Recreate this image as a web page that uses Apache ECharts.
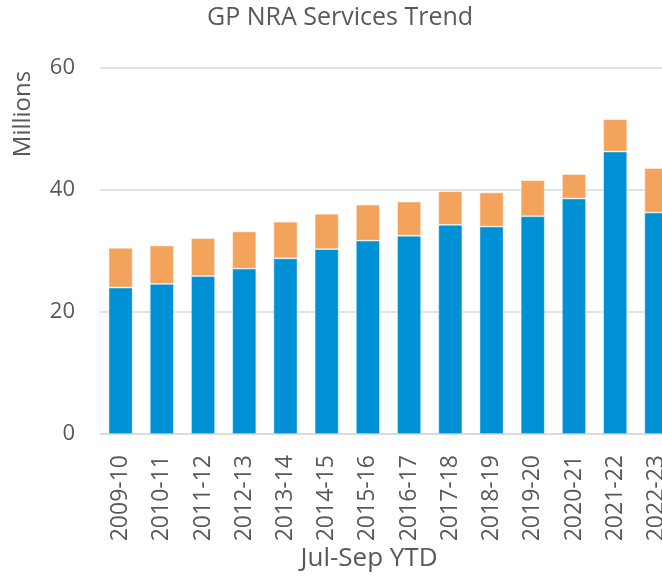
<!DOCTYPE html>
<html>
<head>
<meta charset="utf-8">
<script src="https://cdn.jsdelivr.net/npm/echarts@6/dist/echarts.min.js"></script>
<style>
html,body{margin:0;padding:0;background:#fff;}
#chart{width:662px;height:579px;}
</style>
</head>
<body>
<div id="chart"></div>
<script>
const categories = ['2009-10','2010-11','2011-12','2012-13','2013-14','2014-15','2015-16','2016-17','2017-18','2018-19','2019-20','2020-21','2021-22','2022-23'];
const seriesBlue = [24.0, 24.6, 25.9, 27.1, 28.8, 30.3, 31.7, 32.5, 34.3, 34.0, 35.7, 38.6, 46.3, 36.3];
const seriesOrange = [6.5, 6.3, 6.2, 6.1, 6.0, 5.8, 5.9, 5.6, 5.5, 5.6, 5.9, 4.0, 5.3, 7.3];
const yTicks = {min: 0, max: 60, interval: 20};
const titleText = 'GP NRA Services Trend';
const xName = 'Jul-Sep YTD';
const yName = 'Millions';

const FONT = '"Open Sans", "Noto Sans", sans-serif';
const TXT = '#595959';

const chart = echarts.init(document.getElementById('chart'), null, {renderer: 'canvas'});
chart.setOption({
  animation: false,
  backgroundColor: '#fff',
  title: [
    {text: titleText, left: 340, top: 5, padding: 0, textAlign: 'center',
     textStyle: {fontFamily: FONT, fontSize: 25, fontWeight: 'normal', color: TXT}},
    {text: xName, left: 369, top: 546, padding: 0, textAlign: 'center',
     textStyle: {fontFamily: FONT, fontSize: 26, fontWeight: 'normal', color: TXT}}
  ],
  graphic: [
    {type: 'text', x: 23, y: 114, rotation: Math.PI / 2,
     style: {text: yName, align: 'center', verticalAlign: 'middle',
             font: '24px ' + FONT, fill: TXT}}
  ],
  grid: {left: 100, top: 68, width: 577, height: 366, containLabel: false, outerBoundsMode: 'none'},
  xAxis: {
    type: 'category',
    data: categories,
    axisLine: {show: true, lineStyle: {color: '#d9d9d9', width: 1.5}},
    axisTick: {show: false},
    axisLabel: {rotate: 90, margin: 21, fontFamily: FONT, fontSize: 23, color: TXT, interval: 0}
  },
  yAxis: {
    type: 'value',
    min: yTicks.min, max: yTicks.max, interval: yTicks.interval,
    axisLine: {show: false},
    axisTick: {show: false},
    splitLine: {show: true, lineStyle: {color: '#d9d9d9', width: 1.5}},
    axisLabel: {margin: 25, fontFamily: FONT, fontSize: 22, color: TXT}
  },
  series: [
    {name: 'Series1', type: 'bar', stack: 'total', barWidth: 24, data: seriesBlue,
     itemStyle: {color: '#0090D5', borderColor: 'rgba(255,255,255,0.6)', borderWidth: 0.75}},
    {name: 'Series2', type: 'bar', stack: 'total', barWidth: 24, data: seriesOrange,
     itemStyle: {color: '#F4A35D', borderColor: 'rgba(255,255,255,0.6)', borderWidth: 0.75}}
  ]
});
</script>
</body>
</html>
